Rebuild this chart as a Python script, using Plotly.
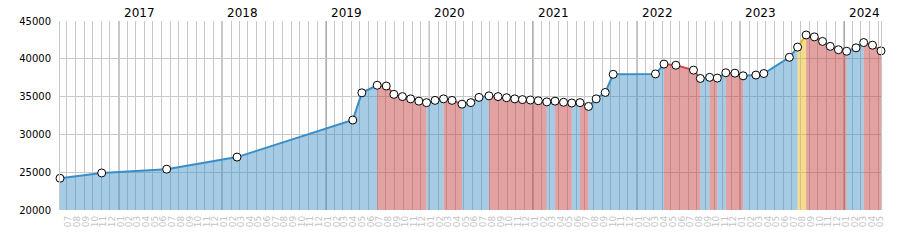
import plotly.graph_objects as go

# ---- data -------------------------------------------------------------
dates = [
    "2016-06-08", "2016-11-02", "2017-06-19", "2018-02-22", "2019-04-06",
    "2019-05-08", "2019-07-01", "2019-08-02", "2019-08-29", "2019-09-28",
    "2019-10-27", "2019-11-25", "2019-12-22", "2020-01-21", "2020-02-20",
    "2020-03-21", "2020-04-25", "2020-05-26", "2020-06-24", "2020-07-29",
    "2020-08-30", "2020-09-29", "2020-10-28", "2020-11-24", "2020-12-22",
    "2021-01-19", "2021-02-18", "2021-03-19", "2021-04-18", "2021-05-17",
    "2021-06-15", "2021-07-15", "2021-08-11", "2021-09-12", "2021-10-10",
    "2022-03-08", "2022-04-07", "2022-05-19", "2022-07-20", "2022-08-13",
    "2022-09-15", "2022-10-12", "2022-11-11", "2022-12-13", "2023-01-11",
    "2023-02-25", "2023-03-25", "2023-06-23", "2023-07-22", "2023-08-21",
    "2023-09-19", "2023-10-18", "2023-11-14", "2023-12-13", "2024-01-11",
    "2024-02-13", "2024-03-11", "2024-04-11", "2024-05-11",
]
values = [
    24200, 24900, 25400, 27000, 31900,
    35500, 36500, 36400, 35300, 35000,
    34700, 34400, 34200, 34500, 34700,
    34500, 34000, 34200, 34900, 35100,
    35000, 34850, 34700, 34600, 34550,
    34450, 34300, 34400, 34250, 34150,
    34200, 33700, 34700, 35550, 37950,
    38000, 39300, 39150, 38500, 37400,
    37550, 37450, 38150, 38100, 37750,
    37850, 38050, 40200, 41550, 43150,
    42900, 42300, 41650, 41200, 41000,
    41450, 42150, 41800, 41050,
]
years = [2017, 2018, 2019, 2020, 2021, 2022, 2023, 2024]
highlight_segment_starts = ["2023-07-22"]

# ---- styles -----------------------------------------------------------
STYLE = {
    "up": ("#3a8dc6", "rgba(58,141,198,0.45)"),
    "down": ("#cc4848", "rgba(200,70,70,0.5)"),
    "highlight": ("#e8b820", "rgba(232,184,32,0.5)"),
}

def seg_kind(i):
    if dates[i] in highlight_segment_starts:
        return "highlight"
    return "up" if values[i + 1] >= values[i] else "down"

kinds = [seg_kind(i) for i in range(len(values) - 1)]

runs = []
start = 0
for i in range(1, len(kinds) + 1):
    if i == len(kinds) or kinds[i] != kinds[start]:
        runs.append((start, i, kinds[start]))
        start = i

fig = go.Figure()
for s, e, k in runs:
    lc, fc = STYLE[k]
    fig.add_trace(go.Scatter(
        x=dates[s:e + 1], y=values[s:e + 1], mode="lines",
        line=dict(color=lc, width=2), fill="tozeroy", fillcolor=fc,
        showlegend=False, hoverinfo="skip",
    ))

fig.add_trace(go.Scatter(
    x=dates, y=values, mode="markers", cliponaxis=False,
    marker=dict(symbol="circle", size=8, color="white",
                line=dict(color="black", width=1)),
    showlegend=False,
))

shapes = []
annotations = []
for y in years:
    d = f"{y}-01-01"
    shapes.append(dict(type="line", xref="x", yref="paper", x0=d, x1=d,
                       y0=0, y1=1, line=dict(color="black", width=1),
                       layer="below"))
    annotations.append(dict(x=d, y=1, xref="x", yref="paper", text=str(y),
                            showarrow=False, xanchor="left", yanchor="bottom",
                            xshift=3, yshift=-1,
                            font=dict(size=12, color="black")))

fig.update_layout(
    width=900, height=250,
    margin=dict(l=60, r=19, t=21, b=40),
    paper_bgcolor="white", plot_bgcolor="white",
    font=dict(family="DejaVu Sans", color="black"),
    shapes=shapes, annotations=annotations,
    xaxis=dict(
        type="date", range=[dates[0], dates[-1]],
        tick0="2016-07-01", dtick="M1", tickformat="%m", tickangle=-90,
        tickfont=dict(size=9, color="#c4c4c4"),
        showgrid=True, gridcolor="#c8c8c8", gridwidth=1,
        ticks="", showline=False, zeroline=False,
        ticklabelshift=2, ticklabelstandoff=3,
    ),
    yaxis=dict(
        range=[20000, 45000], dtick=5000, tickformat="d",
        tickfont=dict(size=10, color="black"),
        showgrid=True, gridcolor="#c8c8c8", gridwidth=1,
        showline=True, mirror=True, linecolor="#c8c8c8", linewidth=1,
        ticks="", zeroline=False, ticklabelstandoff=6,
    ),
)

fig.write_html("out.html")
